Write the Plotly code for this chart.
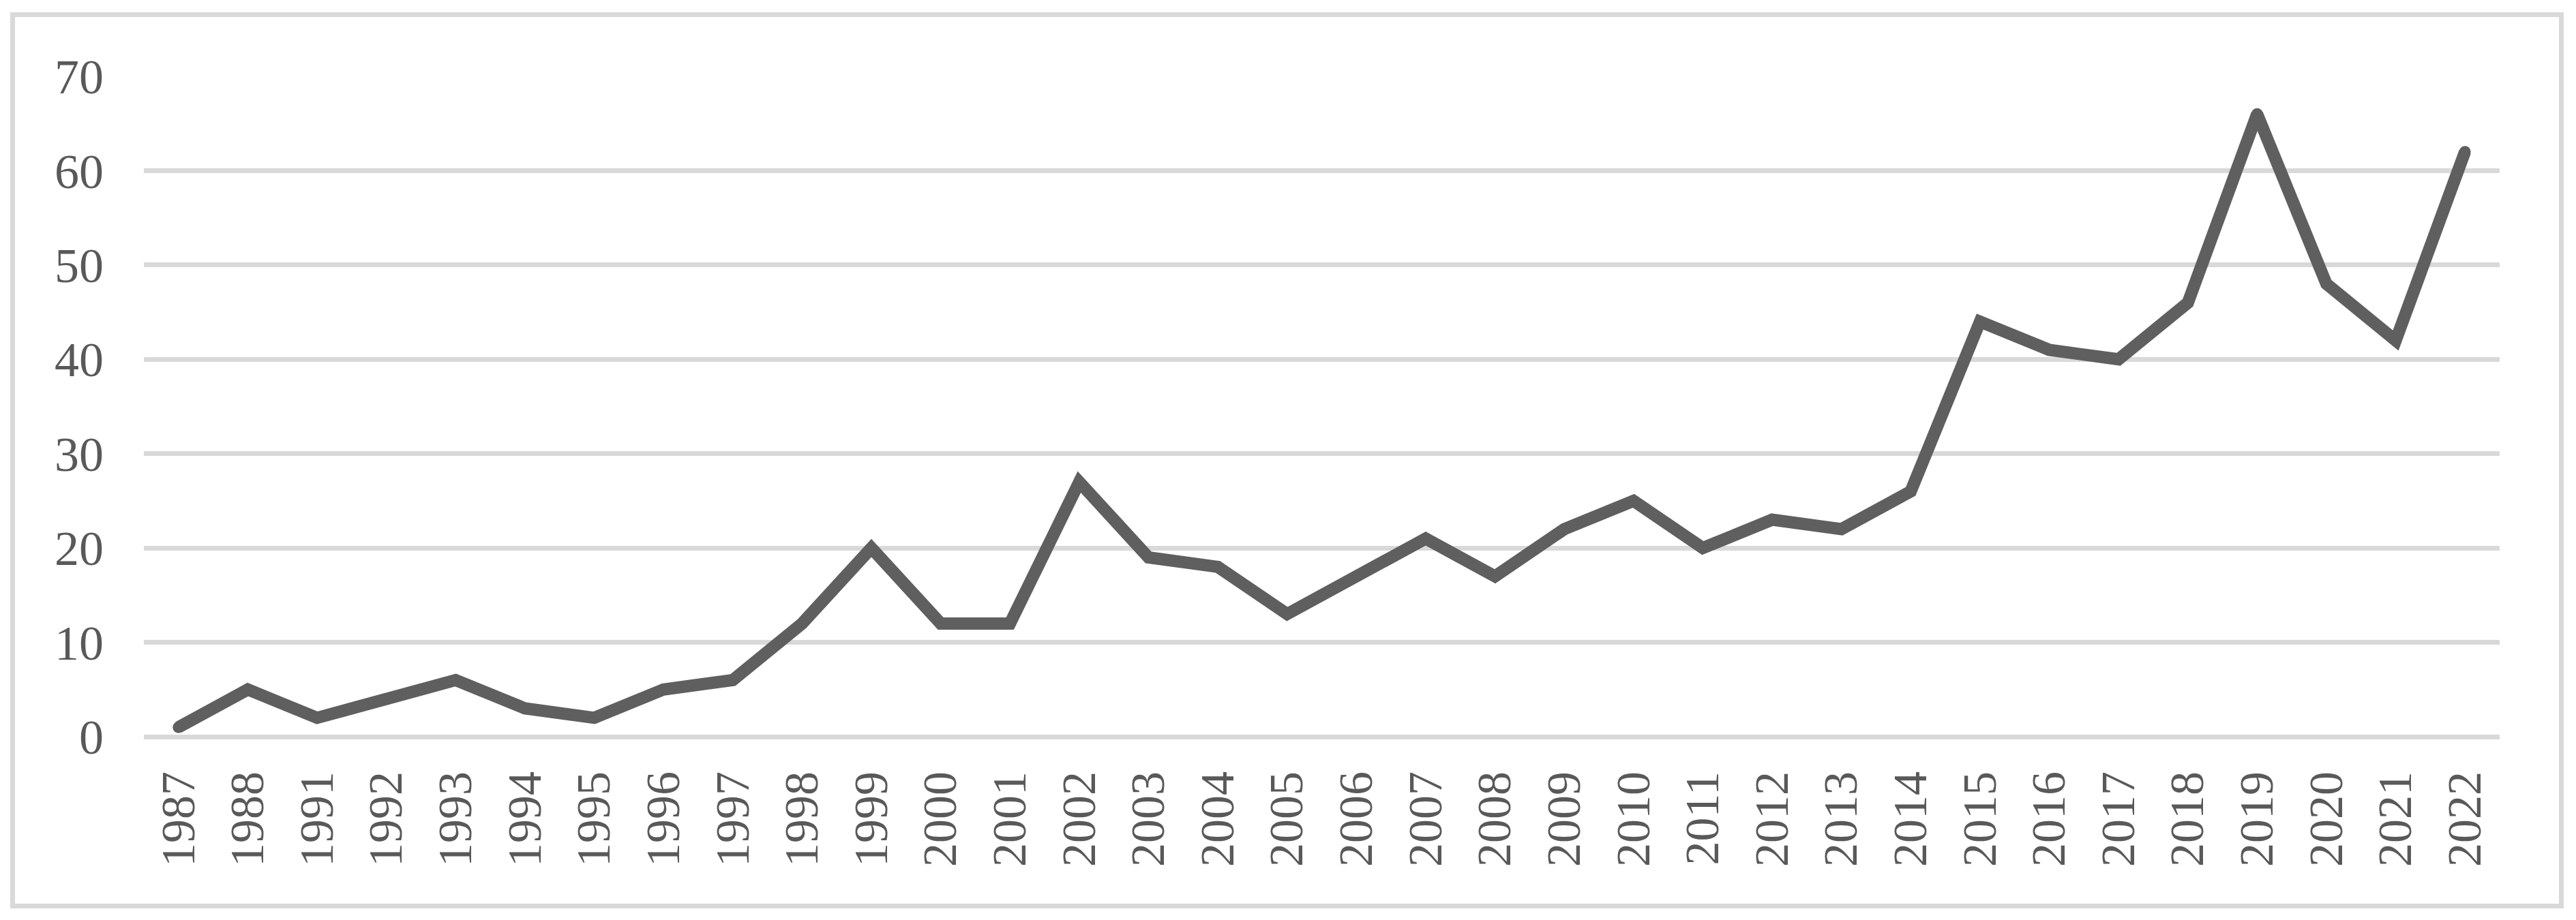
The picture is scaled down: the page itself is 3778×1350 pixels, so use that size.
import plotly.graph_objects as go

years = ["1987", "1988", "1991", "1992", "1993", "1994", "1995", "1996", "1997", "1998",
         "1999", "2000", "2001", "2002", "2003", "2004", "2005", "2006", "2007", "2008",
         "2009", "2010", "2011", "2012", "2013", "2014", "2015", "2016", "2017", "2018",
         "2019", "2020", "2021", "2022"]
counts = [1, 5, 2, 4, 6, 3, 2, 5, 6, 12,
          20, 12, 12, 27, 19, 18, 13, 17, 21, 17,
          22, 25, 20, 23, 22, 26, 44, 41, 40, 46,
          66, 48, 42, 62]
y_ticks = [0, 10, 20, 30, 40, 50, 60, 70]

# page body has an 8px default margin; size the figure to fit the window exactly
OFF = 8
W, H = 3778 - 2 * OFF, 1350 - 2 * OFF
L, T = 211 - OFF, 112 - OFF
R = W - (3666 - OFF)
B = H - (1081 - OFF)
LINE_COLOR = "#5f5f5f"
TEXT_COLOR = "#595959"
GRID_COLOR = "#d9d9d9"
FONT = "Liberation Serif, Times New Roman, serif"

fig = go.Figure()
fig.add_trace(go.Scatter(
    x=years, y=counts, mode="lines+markers",
    line=dict(color=LINE_COLOR, width=18),
    marker=dict(color=LINE_COLOR, size=17, line=dict(width=0)),
    cliponaxis=False, showlegend=False, hoverinfo="x+y",
))

pw = W - L - R
ph = H - T - B
def px_x(x):
    return (x - OFF - L) / pw
def px_y(y):
    return (H - B - (y - OFF)) / ph

fig.add_shape(type="rect", xref="paper", yref="paper",
              x0=px_x(18.5), x1=px_x(3756.5), y0=px_y(1329.5), y1=px_y(21.5),
              line=dict(color=GRID_COLOR, width=7), fillcolor="rgba(0,0,0,0)", layer="below")

fig.update_layout(
    width=W, height=H,
    margin=dict(l=L, r=R, t=T, b=B, pad=0),
    paper_bgcolor="white", plot_bgcolor="white",
    font=dict(family=FONT, color=TEXT_COLOR),
)
fig.update_xaxes(
    type="category", tickangle=-90, range=[-0.5, len(years) - 0.5],
    tickfont=dict(family=FONT, size=70, color=TEXT_COLOR),
    showgrid=False, zeroline=False, showline=False, ticks="",
    ticklabelstandoff=36, automargin=False,
)
fig.update_yaxes(
    range=[0, 70], tickvals=y_ticks,
    tickfont=dict(family=FONT, size=72, color=TEXT_COLOR),
    showgrid=True, gridcolor=GRID_COLOR, gridwidth=6.5,
    zeroline=True, zerolinecolor=GRID_COLOR, zerolinewidth=6.5,
    showline=False, ticks="",
    ticklabelstandoff=58, automargin=False,
)

fig.write_html("out.html")
